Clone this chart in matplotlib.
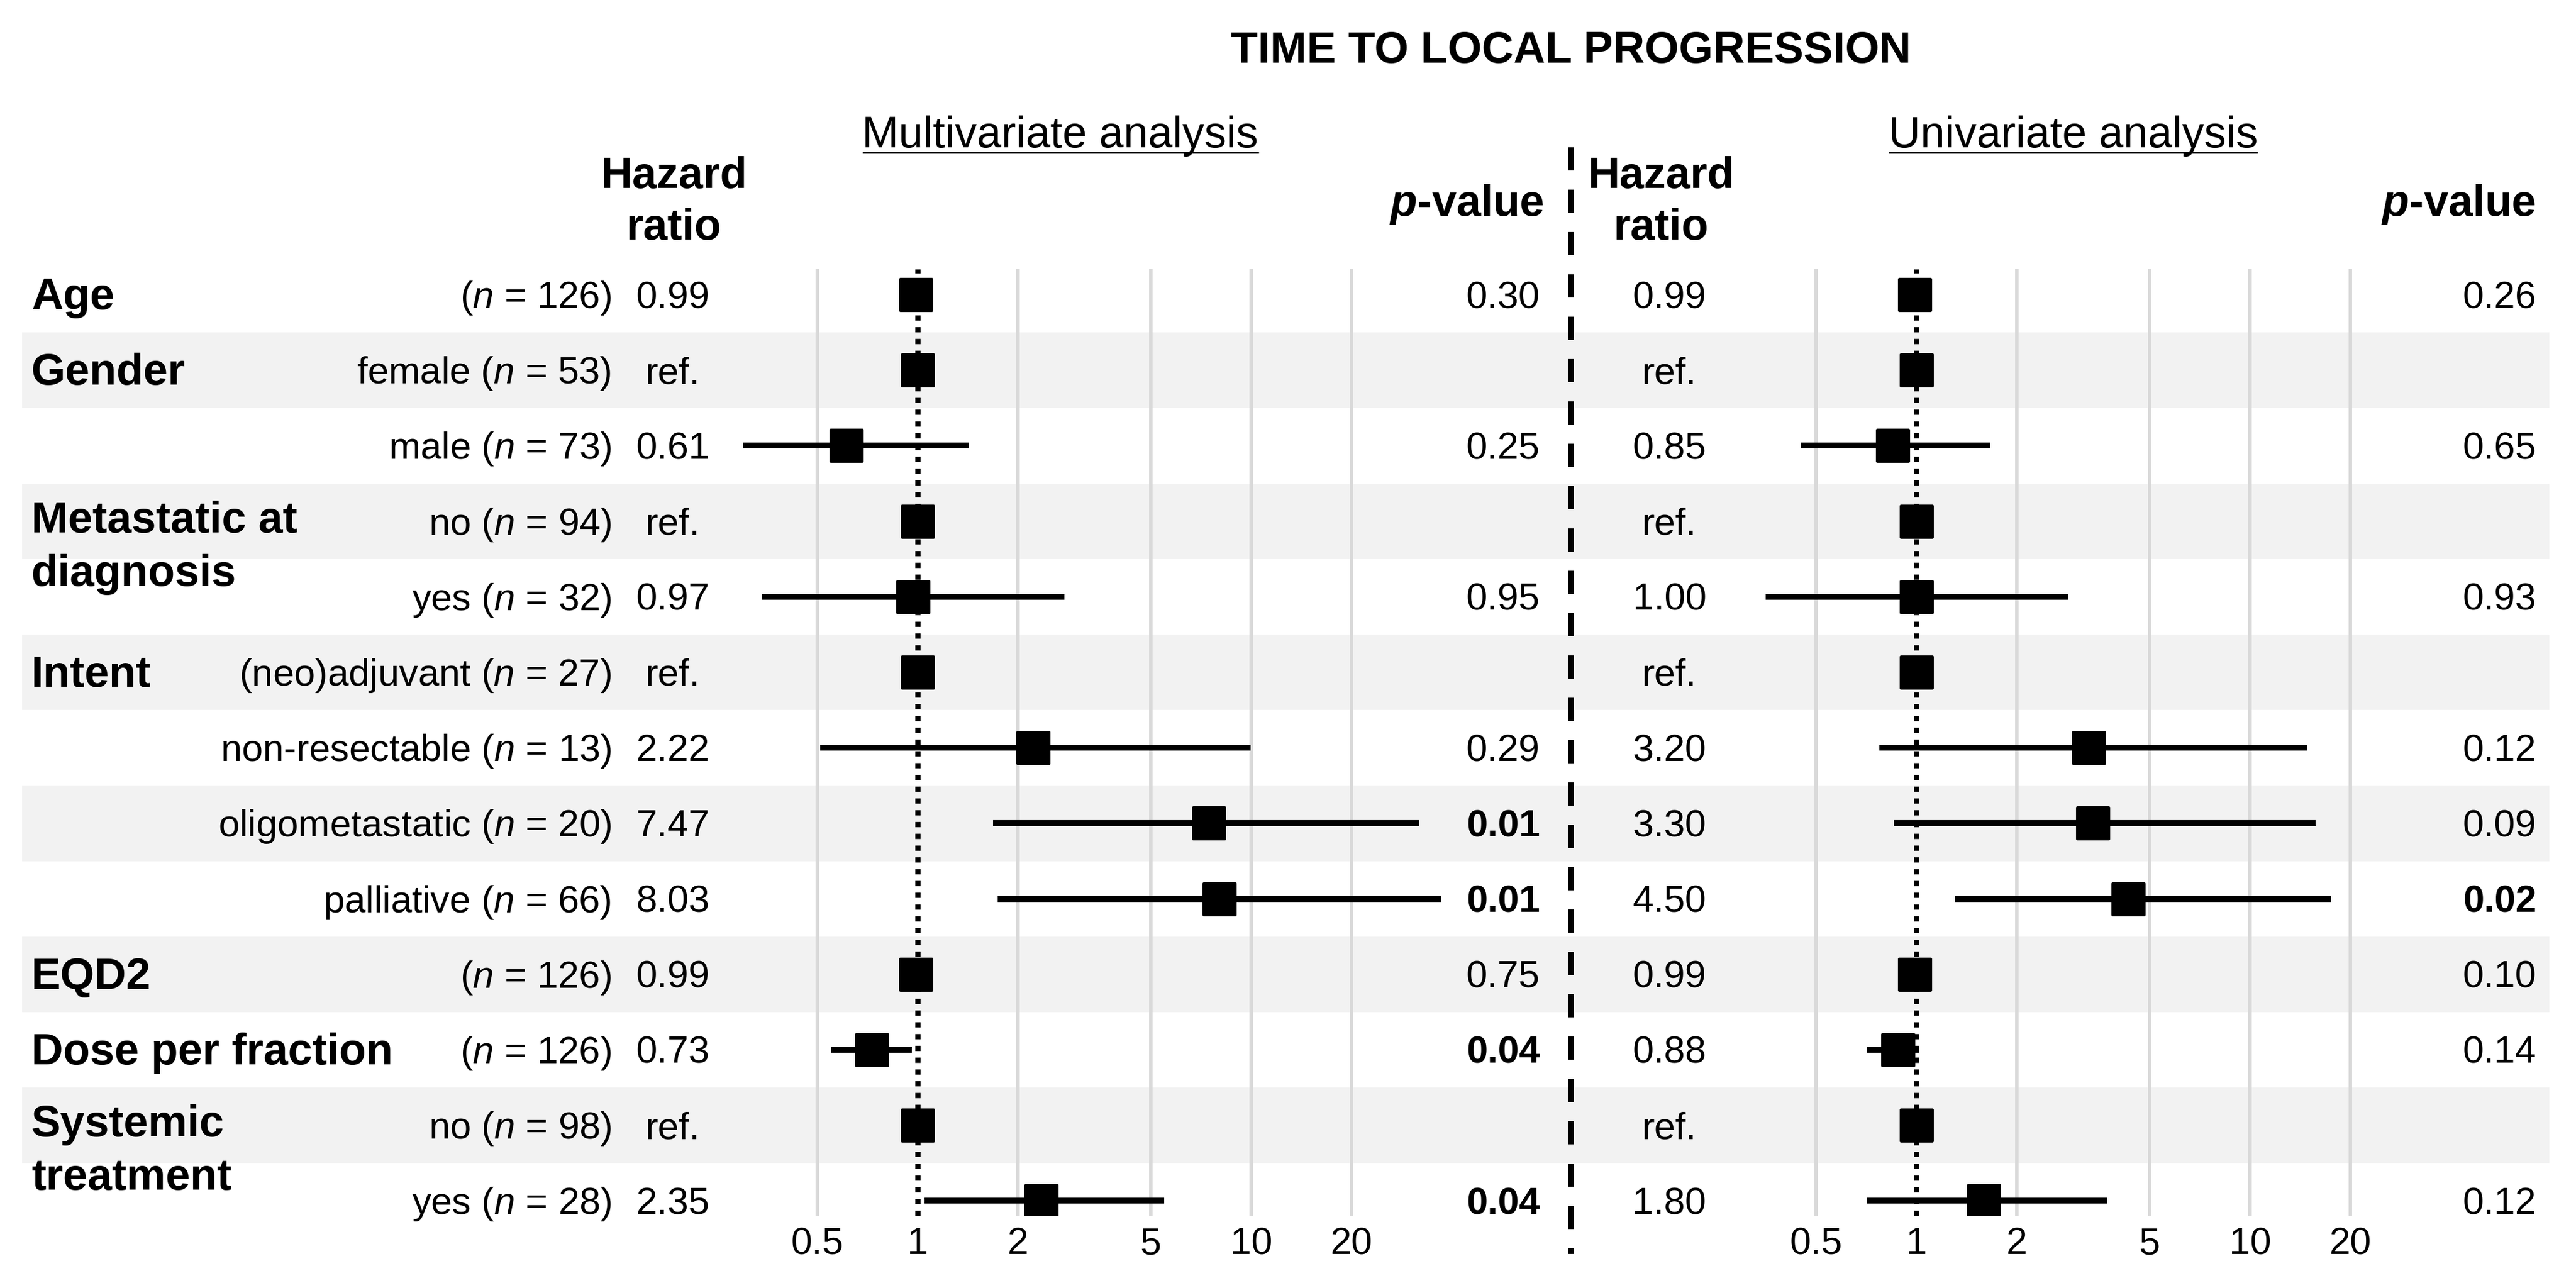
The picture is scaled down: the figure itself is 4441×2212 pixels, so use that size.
import numpy as np
import matplotlib
matplotlib.use("Agg")
import matplotlib.pyplot as plt
from matplotlib import transforms
from matplotlib.patches import Rectangle
from matplotlib.markers import MarkerStyle
from matplotlib.ticker import NullLocator

plt.rcParams['font.family'] = ['Liberation Sans', 'DejaVu Sans']
plt.rcParams['mathtext.fontset'] = 'custom'
plt.rcParams['mathtext.rm'] = 'Liberation Sans'
plt.rcParams['mathtext.it'] = 'Liberation Sans:italic'
plt.rcParams['mathtext.bf'] = 'Liberation Sans:bold'
try:
    plt.rcParams['mathtext.bfit'] = 'Liberation Sans:italic:bold'
except KeyError:
    pass

nan = np.nan

# ---------------- data ----------------
title = "TIME TO LOCAL PROGRESSION"
panel_titles = ["Multivariate analysis", "Univariate analysis"]

group_labels = ["Age", "Gender", "Metastatic at\ndiagnosis", "Intent", "EQD2",
                "Dose per fraction", "Systemic\ntreatment"]
group_rows = [0, 1, 3, 5, 9, 10, 11]

levels = ["", "female", "male", "no", "yes", "(neo)adjuvant", "non-resectable",
          "oligometastatic", "palliative", "", "", "no", "yes"]
n_obs = [126, 53, 73, 94, 32, 27, 13, 20, 66, 126, 126, 98, 28]

multi_hr_text = ["0.99", "ref.", "0.61", "ref.", "0.97", "ref.", "2.22", "7.47",
                 "8.03", "0.99", "0.73", "ref.", "2.35"]
multi_est = [0.99, 1.0, 0.61, 1.0, 0.97, 1.0, 2.22, 7.47, 8.03, 0.99, 0.73, 1.0, 2.35]
multi_lo = [nan, nan, 0.27, nan, 0.34, nan, 0.51, 1.68, 1.74, nan, 0.55, nan, 1.05]
multi_hi = [nan, nan, 1.42, nan, 2.75, nan, 9.96, 32.0, 37.0, nan, 0.96, nan, 5.48]
multi_p = ["0.30", "", "0.25", "", "0.95", "", "0.29", "0.01", "0.01", "0.75",
           "0.04", "", "0.04"]

uni_hr_text = ["0.99", "ref.", "0.85", "ref.", "1.00", "ref.", "3.20", "3.30",
               "4.50", "0.99", "0.88", "ref.", "1.80"]
uni_est = [0.99, 1.0, 0.85, 1.0, 1.00, 1.0, 3.29, 3.38, 4.31, 0.99, 0.88, 1.0, 1.59]
uni_lo = [nan, nan, 0.45, nan, 0.353, nan, 0.774, 0.855, 1.30, nan, 0.71, nan, 0.71]
uni_hi = [nan, nan, 1.66, nan, 2.86, nan, 14.8, 15.7, 17.5, nan, 1.02, nan, 3.73]
uni_p = ["0.26", "", "0.65", "", "0.93", "", "0.12", "0.09", "0.02", "0.10",
         "0.14", "", "0.12"]

xticks = [0.5, 1, 2, 5, 10, 20]
xtick_labels = ["0.5", "1", "2", "5", "10", "20"]

# ---------------- layout ----------------
W, H = 4441, 2212
ROW0, PITCH = 508.0, 130.2
AX_TOP, AX_BOT = 464.0, 2096.0
DEC = 575.0                     # pixels per decade
XLIM = (0.3, 50.0)
nrows = len(levels)

BOLD = 54.5
REG = 47
BAND = "#f2f2f2"
GRID = "#d9d9d9"

fig = plt.figure(figsize=(W / 100, H / 100), dpi=100)
fig.patch.set_facecolor("white")

bg = fig.add_axes([0, 0, 1, 1])
bg.set_xlim(0, W)
bg.set_ylim(H, 0)
bg.axis("off")


def add_forest(x_one, est, lo, hi):
    left = x_one + DEC * np.log10(XLIM[0])
    right = x_one + DEC * np.log10(XLIM[1])
    ax = fig.add_axes([left / W, 1 - AX_BOT / H, (right - left) / W, (AX_BOT - AX_TOP) / H])
    ax.set_xscale("log")
    ax.set_xlim(*XLIM)
    ax.set_ylim((AX_BOT - ROW0) / PITCH, (AX_TOP - ROW0) / PITCH)
    ax.patch.set_visible(False)
    for s in ax.spines.values():
        s.set_visible(False)
    ax.set_yticks([])
    ax.set_xticks(xticks)
    ax.set_xticklabels(xtick_labels)
    ax.xaxis.set_minor_locator(NullLocator())
    ax.tick_params(axis="x", length=0, pad=14, labelsize=REG)
    for t in xticks:
        if t != 1:
            ax.axvline(t, color=GRID, lw=4.3, zorder=1)
    ax.axvline(1, color="black", lw=6.5, linestyle=(0, (1.0, 1.25)), zorder=2)
    rows = np.arange(nrows)
    lo = np.asarray(lo, float)
    hi = np.asarray(hi, float)
    ok = ~np.isnan(lo)
    ax.hlines(rows[ok], lo[ok], hi[ok], color="black", lw=7.3, zorder=3,
              capstyle="butt")
    ax.plot(est, rows, linestyle="none",
            marker=MarkerStyle("s", joinstyle="round"), markersize=39.5,
            markeredgewidth=3.5, color="black", zorder=4)
    return ax


axL = add_forest(1582.0, multi_est, multi_lo, multi_hi)
axR = add_forest(3304.0, uni_est, uni_lo, uni_hi)

trow = transforms.blended_transform_factory(bg.transData, axL.transData)


def off(px):
    return px / PITCH


# shaded bands
for r in range(1, nrows, 2):
    bg.add_patch(Rectangle((38, r - 0.5), 4395 - 38, 1.0, transform=trow,
                           facecolor=BAND, edgecolor="none", zorder=0))

# group labels
for lab, r in zip(group_labels, group_rows):
    lines = lab.split("\n")
    if len(lines) == 1:
        bg.text(54, r + off(25), lines[0], transform=trow, fontsize=BOLD,
                fontweight="bold", ha="left", va="baseline")
    else:
        bg.text(54, r + off(19), lines[0], transform=trow, fontsize=BOLD,
                fontweight="bold", ha="left", va="baseline")
        bg.text(54, r + off(111), lines[1], transform=trow, fontsize=BOLD,
                fontweight="bold", ha="left", va="baseline")

# level / n labels
for r, (lev, n) in enumerate(zip(levels, n_obs)):
    s = (lev + " " if lev else "") + "($n$ = %d)" % n
    bg.text(1054, r + off(23), s, transform=trow, fontsize=REG,
            ha="right", va="baseline")


def is_sig(p):
    return p != "" and float(p) < 0.05


# HR and p-value columns
for r in range(nrows):
    bg.text(1160, r + off(23), multi_hr_text[r], transform=trow, fontsize=REG,
            ha="center", va="baseline")
    bg.text(2878, r + off(23), uni_hr_text[r], transform=trow, fontsize=REG,
            ha="center", va="baseline")
    if multi_p[r]:
        bg.text(2655, r + off(23), multi_p[r], transform=trow, fontsize=REG,
                ha="right", va="baseline",
                fontweight="bold" if is_sig(multi_p[r]) else "normal")
    if uni_p[r]:
        bg.text(4373, r + off(23), uni_p[r], transform=trow, fontsize=REG,
                ha="right", va="baseline",
                fontweight="bold" if is_sig(uni_p[r]) else "normal")

# column headers
for xc in (1162, 2864):
    bg.text(xc, 324, "Hazard", fontsize=BOLD, fontweight="bold", ha="center", va="baseline")
    bg.text(xc, 413, "ratio", fontsize=BOLD, fontweight="bold", ha="center", va="baseline")
for xr in (2661, 4371):
    bg.text(xr, 372, r"$\mathbfit{p}$-value", fontsize=BOLD, fontweight="bold",
            ha="right", va="baseline")

# title
bg.text(2708, 108, title, fontsize=BOLD, fontweight="bold", ha="center", va="baseline")

# panel titles (underlined)
ptexts = []
for xc, lab in zip((1828, 3574), panel_titles):
    ptexts.append(bg.text(xc, 254, lab, fontsize=BOLD, ha="center", va="baseline"))

fig.canvas.draw()
renderer = fig.canvas.get_renderer()
for t in ptexts:
    bb = t.get_window_extent(renderer)
    bg.plot([bb.x0, bb.x1], [263, 263], color="black", lw=2.2, solid_capstyle="butt")

# dashed separator
bg.plot([2708, 2708], [254, 2162], color="black", lw=7.2,
        linestyle=(0, (4.0, 3.3)), zorder=5)

fig.savefig("out.png", dpi=100, facecolor="white")
